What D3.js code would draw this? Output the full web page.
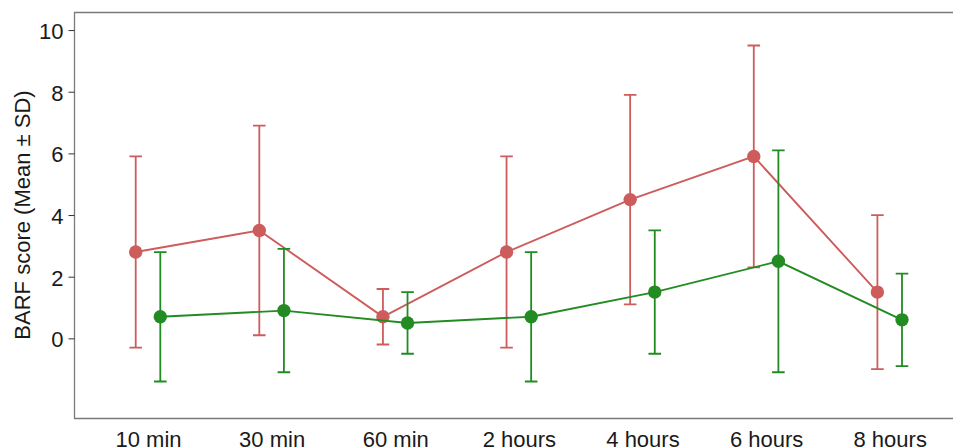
<!DOCTYPE html>
<html>
<head>
<meta charset="utf-8">
<script src="https://cdn.jsdelivr.net/npm/d3@7"></script>
<style>
  html, body { margin: 0; padding: 0; background: #fff; }
  svg { display: block; font-family: 'Liberation Sans', Arial, sans-serif; }
</style>
</head>
<body>
<svg id="chart" width="953" height="448"></svg>
<script>
// time points on the x axis
const timePoints = ['10 min', '30 min', '60 min', '2 hours', '4 hours', '6 hours', '8 hours'];

// group A (red): mean and SD
const redMean = [2.8, 3.5, 0.7, 2.8, 4.5, 5.9, 1.5];
const redSD   = [3.1, 3.4, 0.9, 3.1, 3.4, 3.6, 2.5];

// group B (green): mean and SD
const greenMean = [0.7, 0.9, 0.5, 0.7, 1.5, 2.5, 0.6];
const greenSD   = [2.1, 2.0, 1.0, 2.1, 2.0, 3.6, 1.5];

const yTicks = [0, 2, 4, 6, 8, 10];

const FONT = "'Liberation Sans', Arial, sans-serif";
const svg = d3.select('#chart');

const panel = { left: 74.5, top: 12.5, right: 975, bottom: 418.5 };

const x = d3.scalePoint().domain(timePoints).range([148, 889.7]);
const y = d3.scaleLinear().domain([-2.6, 10.57]).range([panel.bottom, panel.top]);
const dodge = 12.3;

// panel border (right side runs off the picture)
svg.append('path')
     .attr('d', `M${panel.right},${panel.top}H${panel.left}V${panel.bottom}H${panel.right}`)
     .attr('fill', 'none')
     .attr('stroke', '#7a7a7a')
     .attr('stroke-width', 1.3);

// y axis
const yAxis = d3.axisLeft(y).tickValues(yTicks).tickSize(6).tickPadding(5).tickFormat(d3.format('d'));
const gy = svg.append('g').attr('transform', `translate(${panel.left},0)`).call(yAxis);
gy.select('.domain').remove();
gy.selectAll('.tick line').attr('stroke', '#333');
gy.selectAll('.tick text')
     .attr('fill', '#1a1a1a').attr('font-size', '22px').attr('font-family', FONT)
     .attr('dy', '0.38em');

// x labels
const xAxis = d3.axisBottom(x).tickSize(0).tickPadding(12.4);
const gx = svg.append('g').attr('transform', `translate(0,${panel.bottom})`).call(xAxis);
gx.select('.domain').remove();
gx.selectAll('.tick text').attr('fill', '#1a1a1a').attr('font-size', '22px').attr('font-family', FONT);

// y title
svg.append('text')
     .attr('transform', `translate(30,215) rotate(-90)`)
     .attr('text-anchor', 'middle')
     .attr('font-size', '22px')
     .attr('fill', '#1a1a1a')
     .text('BARF score (Mean ± SD)');

const series = [
     { mean: redMean, sd: redSD, color: '#cd5c5c', off: -dodge },
     { mean: greenMean, sd: greenSD, color: '#228b22', off: dodge }
];

series.forEach(s => {
     const pts = timePoints.map((t, i) => ({ t, m: s.mean[i], sd: s.sd[i], cx: x(t) + s.off }));
     const g = svg.append('g');

     // error bars
     const eb = g.append('g').attr('stroke', s.color).attr('stroke-width', 1.8).attr('fill', 'none');
     eb.selectAll('path')
          .data(pts)
          .join('path')
          .attr('d', d => {
               const y1 = y(d.m + d.sd), y0 = y(d.m - d.sd), w = 6.3;
               return `M${d.cx - w},${y1}H${d.cx + w}M${d.cx},${y1}V${y0}M${d.cx - w},${y0}H${d.cx + w}`;
          });

     // line
     g.append('path')
          .datum(pts)
          .attr('fill', 'none')
          .attr('stroke', s.color)
          .attr('stroke-width', 1.9)
          .attr('d', d3.line().x(d => d.cx).y(d => y(d.m)));

     // points
     g.selectAll('circle')
          .data(pts)
          .join('circle')
          .attr('cx', d => d.cx)
          .attr('cy', d => y(d.m))
          .attr('r', 6.7)
          .attr('fill', s.color);
});
</script>
</body>
</html>
